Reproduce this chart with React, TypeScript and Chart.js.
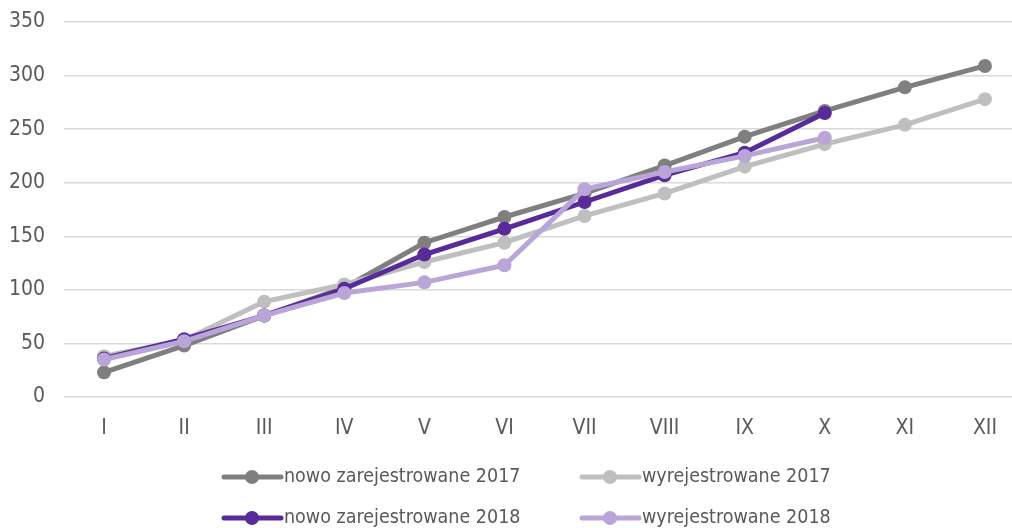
import React, { useEffect, useRef } from "react";
import { Chart, registerables } from "chart.js";

Chart.register(...registerables);

const months = ["I", "II", "III", "IV", "V", "VI", "VII", "VIII", "IX", "X", "XI", "XII"];
const nowo2017 = [23, 48, 76, 102, 144, 168, 190, 216, 243, 267, 289, 309];
const wyrej2017 = [38, 53, 89, 105, 126, 144, 169, 190, 215, 236, 254, 278];
const nowo2018 = [36, 54, 76, 101, 133, 157, 182, 207, 228, 265];
const wyrej2018 = [35, 52, 76, 97, 107, 123, 194, 210, 225, 242];
const seriesNames = [
  "nowo zarejestrowane 2017",
  "wyrejestrowane 2017",
  "nowo zarejestrowane 2018",
  "wyrejestrowane 2018",
];
const seriesColors = ["#7f7f7f", "#bfbfbf", "#582a9a", "#b9a5d7"];
const yMin = 0;
const yMax = 350;
const yStep = 50;

const FONT = '"Liberation Sans Narrow", "DejaVu Sans Condensed", "Noto Sans", sans-serif';
const TEXT = "#595959";

const gridLegend = {
  id: "gridLegend",
  afterDraw(chart: any) {
    const ctx = chart.ctx;
    const base = chart.chartArea.bottom;
    const rows = [base + 80, base + 121];
    const cols = [222, 580];
    chart.data.datasets.forEach((ds: any, i: number) => {
      const x = cols[i % 2];
      const y = rows[Math.floor(i / 2)];
      ctx.save();
      ctx.strokeStyle = ds.borderColor;
      ctx.lineWidth = 5;
      ctx.lineCap = "round";
      ctx.beginPath();
      ctx.moveTo(x + 2, y);
      ctx.lineTo(x + 59, y);
      ctx.stroke();
      ctx.fillStyle = ds.borderColor;
      ctx.beginPath();
      ctx.arc(x + 30, y, 7, 0, Math.PI * 2);
      ctx.fill();
      ctx.font = `19.5px ${FONT}`;
      ctx.fillStyle = TEXT;
      ctx.textAlign = "left";
      ctx.textBaseline = "middle";
      ctx.fillText(ds.label, x + 62, y);
      ctx.restore();
    });
  },
};

export default function App() {
  const ref = useRef<HTMLCanvasElement | null>(null);

  useEffect(() => {
    if (!ref.current) return;
    const series = [nowo2017, wyrej2017, nowo2018, wyrej2018];
    const chart = new Chart(ref.current, {
      type: "line",
      data: {
        labels: months,
        datasets: series.map((d, i) => ({
          label: seriesNames[i],
          data: d,
          borderColor: seriesColors[i],
          backgroundColor: seriesColors[i],
          pointBackgroundColor: seriesColors[i],
          pointBorderColor: seriesColors[i],
          borderWidth: 5,
          pointRadius: 7,
          pointBorderWidth: 0,
          tension: 0,
          order: series.length - i,
        })),
      },
      options: {
        animation: false,
        responsive: true,
        maintainAspectRatio: false,
        layout: { autoPadding: false, padding: { top: 22, right: 0, left: 0, bottom: 0 } },
        plugins: {
          legend: { display: false },
          tooltip: { enabled: false },
        },
        scales: {
          x: {
            offset: true,
            grid: { display: false, drawTicks: false },
            border: { display: false },
            ticks: { color: TEXT, font: { family: FONT, size: 21 }, padding: 19, maxRotation: 0 },
            afterFit: (s: any) => {
              s.height = 131;
              s.paddingLeft = 0;
              s.paddingRight = 0;
            },
          },
          y: {
            min: yMin,
            max: yMax,
            grid: { color: "#d9d9d9", lineWidth: 1.5, drawTicks: false },
            border: { display: false },
            ticks: { stepSize: yStep, color: TEXT, font: { family: FONT, size: 21 }, padding: 19 },
            afterFit: (s: any) => {
              s.width = 64;
              s.paddingTop = 0;
              s.paddingBottom = 0;
            },
          },
        },
      },
      plugins: [gridLegend],
    });
    return () => chart.destroy();
  }, []);

  return (
    <div style={{ position: "fixed", left: 0, top: 0, width: 1012, height: 528, overflow: "hidden", background: "#fff" }}>
      <div style={{ position: "relative", width: 1025, height: 528 }}>
        <canvas ref={ref} />
      </div>
    </div>
  );
}
